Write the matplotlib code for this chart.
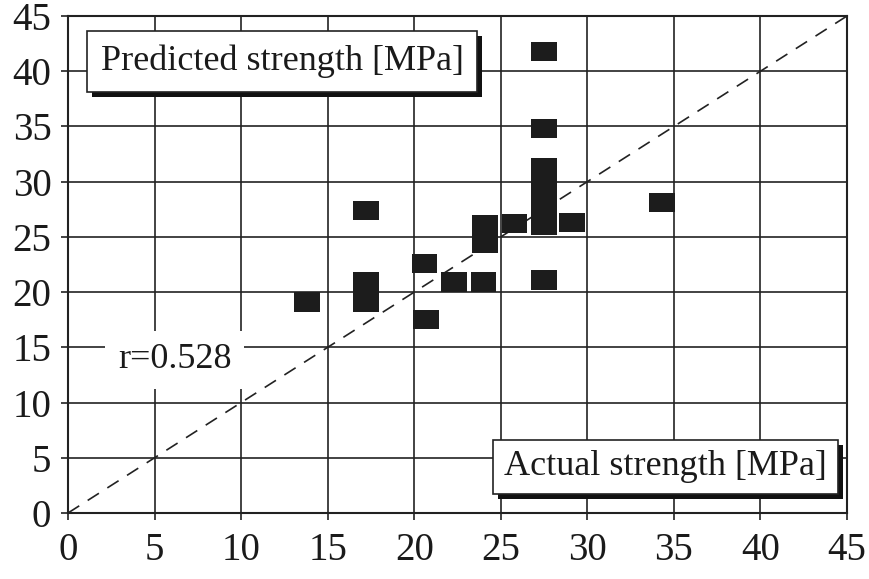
import matplotlib
matplotlib.use("Agg")
import matplotlib.pyplot as plt
import matplotlib.patheffects as pe
from matplotlib.path import Path
import numpy as np

# Data
actual = [13.8, 17.2, 17.2, 17.2, 20.6, 20.7, 22.3, 24.0, 24.1, 24.1, 25.8,
          27.5, 27.5, 27.5, 27.5, 27.5, 27.5, 27.5, 29.1, 34.3]
predicted = [19.1, 27.4, 20.9, 19.1, 22.6, 17.5, 20.9, 20.9, 26.1, 24.4, 26.2,
             41.8, 34.8, 31.3, 29.6, 27.9, 26.1, 21.1, 26.3, 28.1]
ticks = [0, 5, 10, 15, 20, 25, 30, 35, 40, 45]
r_text = "r=0.528"
xlabel = "Actual strength [MPa]"
ylabel = "Predicted strength [MPa]"

plt.rcParams['font.family'] = ['Liberation Serif', 'DejaVu Serif']

fig = plt.figure(figsize=(8.7, 5.79), dpi=100)
ax = fig.add_axes([68/870, 1-513/579, 779/870, 497/579])

# rectangular marker (wider than tall)
rect = Path([(-1, -0.76), (1, -0.76), (1, 0.76), (-1, 0.76), (-1, -0.76)],
            [Path.MOVETO, Path.LINETO, Path.LINETO, Path.LINETO, Path.CLOSEPOLY])

ax.set_xlim(0, 45)
ax.set_ylim(0, 45)
ax.set_xticks(ticks)
ax.set_yticks(ticks)
ax.grid(True, color='#222222', linewidth=1.2)
ax.set_axisbelow(True)

line, = ax.plot([0, 45], [0, 45], color='#222222', linewidth=1.2, zorder=2)
line.set_dashes([8, 6])

ax.scatter(actual, predicted, marker=rect, s=18.5**2, color='#1c1c1c',
           edgecolors='none', zorder=3)

for s in ax.spines.values():
    s.set_linewidth(1.5)
    s.set_color('#222222')

ax.tick_params(axis='both', direction='out', length=5, width=1.2,
               colors='#222222', labelsize=28, labelcolor='#1a1a1a')
ax.tick_params(axis='x', pad=9)
ax.tick_params(axis='y', pad=7)

shadow = [pe.SimplePatchShadow(offset=(3.5, -3.5), shadow_rgbFace='#111111', alpha=1.0),
          pe.Normal()]

t1 = ax.text(0.275, 0.909, ylabel, transform=ax.transAxes, ha='center', va='center',
             fontsize=26, color='#1a1a1a', zorder=5,
             bbox=dict(boxstyle='square,pad=0.38', facecolor='white',
                       edgecolor='#222222', linewidth=1.2))
t1.get_bbox_patch().set_path_effects(shadow)

t2 = ax.text(0.767, 0.0926, xlabel, transform=ax.transAxes, ha='center', va='center',
             fontsize=26, color='#1a1a1a', zorder=5,
             bbox=dict(boxstyle='square,pad=0.3', facecolor='white',
                       edgecolor='#222222', linewidth=1.2))
t2.get_bbox_patch().set_path_effects(shadow)

ax.text(0.137, 0.308, r_text, transform=ax.transAxes, ha='center', va='center',
        fontsize=26, color='#1a1a1a', zorder=5,
        bbox=dict(boxstyle='square,pad=0.35', facecolor='white', edgecolor='none'))

fig.savefig("out.png", dpi=100, facecolor='white')
